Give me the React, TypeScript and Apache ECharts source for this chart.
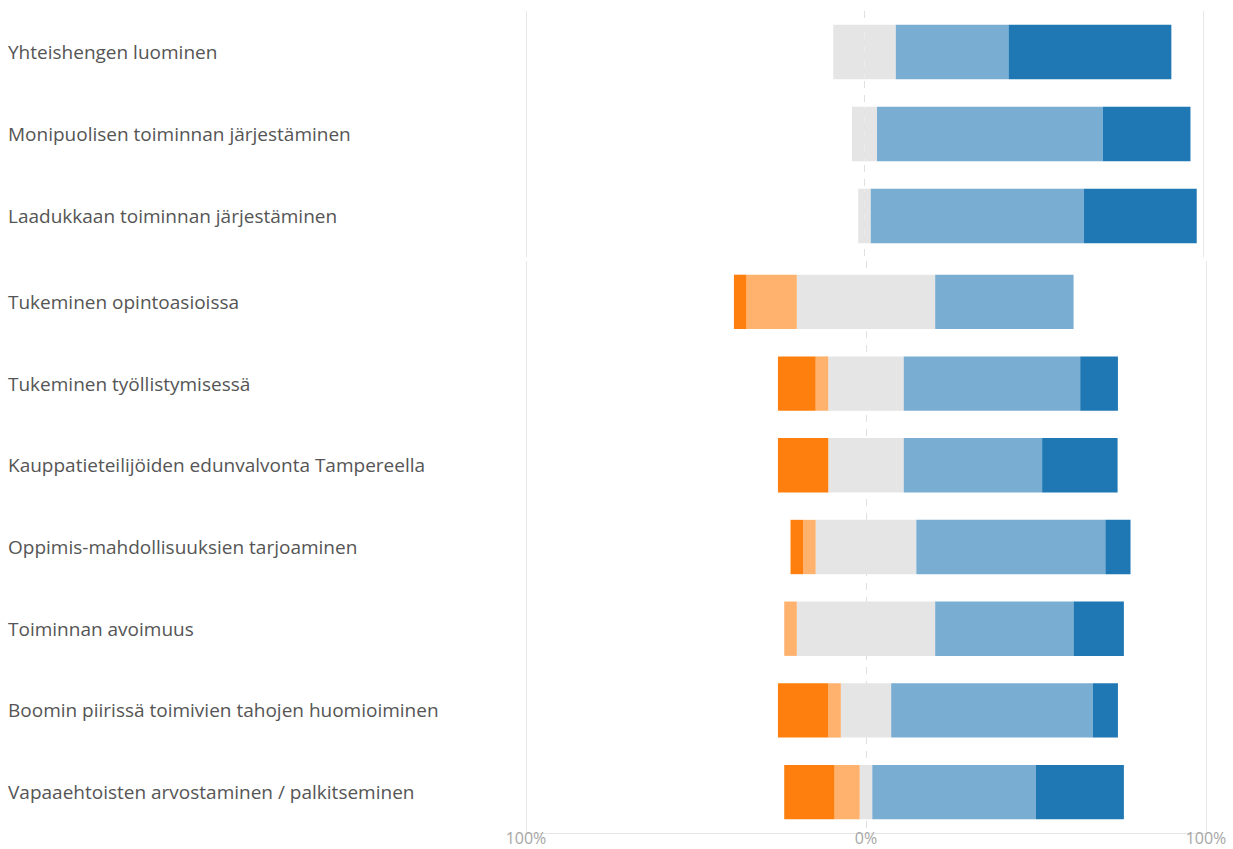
import React, { useEffect, useRef } from "react";
import * as echarts from "echarts";

const categories = [
  "Yhteishengen luominen",
  "Monipuolisen toiminnan järjestäminen",
  "Laadukkaan toiminnan järjestäminen",
  "Tukeminen opintoasioissa",
  "Tukeminen työllistymisessä",
  "Kauppatieteilijöiden edunvalvonta Tampereella",
  "Oppimis-mahdollisuuksien tarjoaminen",
  "Toiminnan avoimuus",
  "Boomin piirissä toimivien tahojen huomioiminen",
  "Vapaaehtoisten arvostaminen / palkitseminen",
];

// percentages
const stronglyDisagree = [0, 0, 0, 3.7, 11.1, 14.8, 3.7, 0, 14.8, 14.8];
const disagree = [0, 0, 0, 14.8, 3.7, 0, 3.7, 3.7, 3.7, 7.4];
const neutral = [18.5, 7.4, 3.7, 40.7, 22.2, 22.2, 29.6, 40.7, 14.8, 3.7];
const agree = [33.3, 66.7, 63.0, 40.7, 51.9, 40.7, 55.6, 40.7, 59.3, 48.1];
const stronglyAgree = [48.1, 25.9, 33.3, 0, 11.1, 22.2, 7.4, 14.8, 7.4, 25.9];

// row groups (two stacked panels)
const groups: [number, number][] = [
  [0, 3],
  [3, 10],
];

const tickValues = [-100, 0, 100];
const tickLabels = ["100%", "0%", "100%"];

const COLORS = {
  sd: "#ff7f0e",
  d: "#ffb26e",
  n: "#e5e5e5",
  a: "#79add2",
  sa: "#1f77b4",
};

const FONT = "'Segoe UI', 'Open Sans', sans-serif";

export default function App() {
  const ref = useRef<HTMLDivElement>(null);

  useEffect(() => {
    if (!ref.current) return;
    const chart = echarts.init(ref.current, undefined, { renderer: "svg" });

    const grids = [
      { left: 526, right: 30, top: 11, height: 246 },
      { left: 526, right: 27, top: 261, height: 572 },
    ];

    const xAxis: any[] = [];
    const yAxis: any[] = [];
    const series: any[] = [];

    groups.forEach(([s, e], g) => {
      const isBottom = g === groups.length - 1;
      xAxis.push({
        type: "value",
        gridIndex: g,
        min: -100,
        max: 100,
        interval: 100,
        position: "bottom",
        axisLine: { show: isBottom, lineStyle: { color: "#e6e6e6", width: 1 } },
        axisTick: { show: false },
        axisLabel: {
          show: isBottom,
          color: "#a6a6a6",
          fontSize: 16,
          lineHeight: 14,
          fontFamily: FONT,
          margin: -2,
          formatter: (v: number) => {
            const i = tickValues.indexOf(Math.round(v));
            return i >= 0 ? tickLabels[i] : "";
          },
        },
        splitLine: {
          show: true,
          lineStyle: { color: ["#e8e8e8", "rgba(0,0,0,0)", "#e8e8e8"], width: 1 },
        },
      });
      xAxis.push({
        type: "value",
        gridIndex: g,
        min: -100,
        max: 100,
        interval: 100,
        position: "top",
        axisLine: { show: false },
        axisTick: { show: false },
        axisLabel: { show: false },
        splitLine: {
          show: true,
          lineStyle: {
            color: ["rgba(0,0,0,0)", "#e0e0e0", "rgba(0,0,0,0)"],
            width: 1,
            type: [7, 7],
          },
        },
      });
      yAxis.push({
        type: "category",
        gridIndex: g,
        inverse: true,
        data: categories.slice(s, e),
        axisLine: { show: false },
        axisTick: { show: false },
        splitLine: { show: false },
        axisLabel: {
          interval: 0,
          align: "left",
          margin: 518,
          color: "#555555",
          fontSize: 19,
          fontFamily: FONT,
        },
      });

      const xi = g * 2;
      const common = {
        type: "bar",
        xAxisIndex: xi,
        yAxisIndex: g,
        stack: "s" + g,
        barCategoryGap: "33.5%",
        silent: true,
      };
      const sl = (arr: number[]) => arr.slice(s, e);
      series.push(
        {
          ...common,
          name: "Neutraali",
          itemStyle: { color: COLORS.n },
          data: sl(neutral).map((v) => -v / 2),
        },
        {
          ...common,
          name: "Eri mieltä",
          itemStyle: { color: COLORS.d },
          data: sl(disagree).map((v) => -v),
        },
        {
          ...common,
          name: "Täysin eri mieltä",
          itemStyle: { color: COLORS.sd },
          data: sl(stronglyDisagree).map((v) => -v),
        },
        {
          ...common,
          name: "Neutraali ",
          itemStyle: { color: COLORS.n },
          data: sl(neutral).map((v) => v / 2),
        },
        {
          ...common,
          name: "Samaa mieltä",
          itemStyle: { color: COLORS.a },
          data: sl(agree),
        },
        {
          ...common,
          name: "Täysin samaa mieltä",
          itemStyle: { color: COLORS.sa },
          data: sl(stronglyAgree),
        }
      );
    });

    chart.setOption({
      animation: false,
      backgroundColor: "#ffffff",
      grid: grids,
      xAxis,
      yAxis,
      series,
    });

    return () => chart.dispose();
  }, []);

  return (
    <div
      ref={ref}
      style={{ position: "absolute", left: 0, top: 0, width: 1233, height: 849 }}
    />
  );
}
